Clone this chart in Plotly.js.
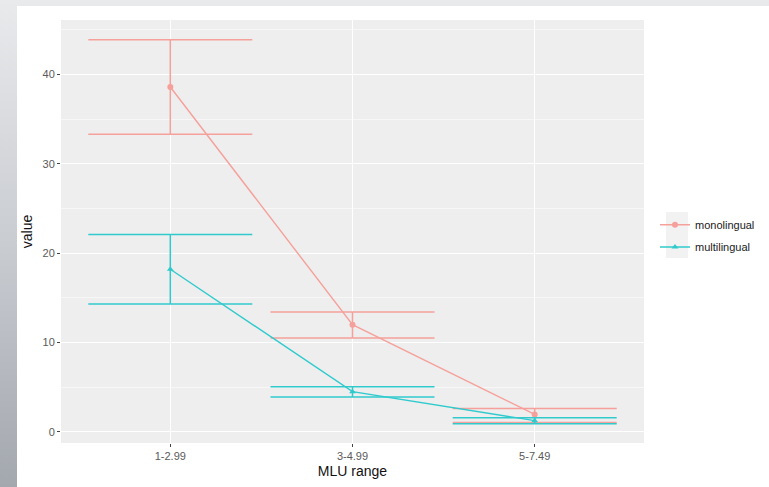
<!DOCTYPE html>
<html>
<head>
<meta charset="utf-8">
<script src="https://cdn.plot.ly/plotly-3.0.1.min.js"></script>
<style>
  html, body { margin:0; padding:0; width:769px; height:487px; overflow:hidden;
    background: linear-gradient(to bottom, #e9eaec 0%, #c9ccd1 50%, #a3a7ae 100%); }
  #wrap { position:absolute; left:17px; top:6px; width:752px; height:481px; background:#ffffff; }
  #chart { width:752px; height:481px; }
</style>
</head>
<body>
<div id="wrap"><div id="chart"></div></div>
<script>
const categories = ['1-2.99', '3-4.99', '5-7.49'];
const monoValue = [38.6, 12.0, 1.95];
const monoLower = [33.3, 10.5, 1.05];
const monoUpper = [43.9, 13.4, 2.6];
const multiValue = [18.2, 4.5, 1.25];
const multiLower = [14.3, 3.9, 0.9];
const multiUpper = [22.1, 5.05, 1.57];
const seriesNames = ['monolingual', 'multilingual'];
const yTicks = [0, 10, 20, 30, 40];

const pink = '#f5a09a';
const cyan = '#30cacd';

function trace(name, vals, lo, hi, color, symbol, legendId) {
  return {
    type: 'scatter', mode: 'lines+markers', name: name, legend: legendId,
    x: categories, y: vals,
    line: { color: color, width: 1.4 },
    marker: { color: color, size: 6, symbol: symbol },
    error_y: {
      type: 'data', symmetric: false,
      array: hi.map((h, i) => h - vals[i]),
      arrayminus: lo.map((l, i) => vals[i] - l),
      color: color, thickness: 1.5, width: 82, visible: true
    }
  };
}

const data = [
  trace(seriesNames[0], monoValue, monoLower, monoUpper, pink, 'circle', 'legend'),
  trace(seriesNames[1], multiValue, multiLower, multiUpper, cyan, 'triangle-up', 'legend2')
];

const legendBase = {
  xref: 'container', yref: 'container', xanchor: 'left', yanchor: 'middle',
  bgcolor: 'rgba(0,0,0,0)', borderwidth: 0,
  font: { size: 11, color: '#1a1a1a' }, itemwidth: 30
};

const layout = {
  width: 752, height: 481,
  margin: { l: 44, r: 125, t: 14, b: 44, pad: 0 },
  paper_bgcolor: '#ffffff', plot_bgcolor: '#eeeeee',
  font: { family: 'Liberation Sans, Arial, sans-serif', color: '#5a5a5a', size: 11 },
  showlegend: true,
  xaxis: {
    type: 'category', range: [-0.6, 2.6], tickvals: categories, ticktext: categories,
    showgrid: true, gridcolor: '#ffffff', gridwidth: 1.1, zeroline: false,
    ticks: 'outside', ticklen: 3, tickcolor: '#444444', tickwidth: 1,
    tickfont: { size: 11, color: '#5a5a5a' },
    title: { text: 'MLU range', font: { size: 14, color: '#111111' }, standoff: 4 },
    showline: false, fixedrange: true
  },
  yaxis: {
    range: [-1.25, 46.1], tickvals: yTicks, ticktext: yTicks.map(String),
    showgrid: true, gridcolor: '#ffffff', gridwidth: 1.1, zeroline: false,
    ticks: 'outside', ticklen: 3, tickcolor: '#444444', tickwidth: 1,
    tickfont: { size: 11, color: '#5a5a5a' },
    minor: { tickvals: [5, 15, 25, 35, 45], showgrid: true, gridcolor: '#ffffff', gridwidth: 0.5, ticks: '' },
    title: { text: 'value', font: { size: 14, color: '#111111' }, standoff: 6 },
    showline: false, fixedrange: true
  },
  legend: Object.assign({}, legendBase, { x: 0.8484, y: 0.5453 }),
  legend2: Object.assign({}, legendBase, { x: 0.8484, y: 0.499 }),
  shapes: [{
    type: 'rect', xref: 'paper', yref: 'paper', layer: 'below',
    x0: 1.0377, x1: 1.0755, y0: 0.4374, y1: 0.5461,
    fillcolor: '#f2f2f2', line: { width: 0 }
  }]
};

Plotly.newPlot('chart', data, layout, { displayModeBar: false, staticPlot: true });
</script>
</body>
</html>
